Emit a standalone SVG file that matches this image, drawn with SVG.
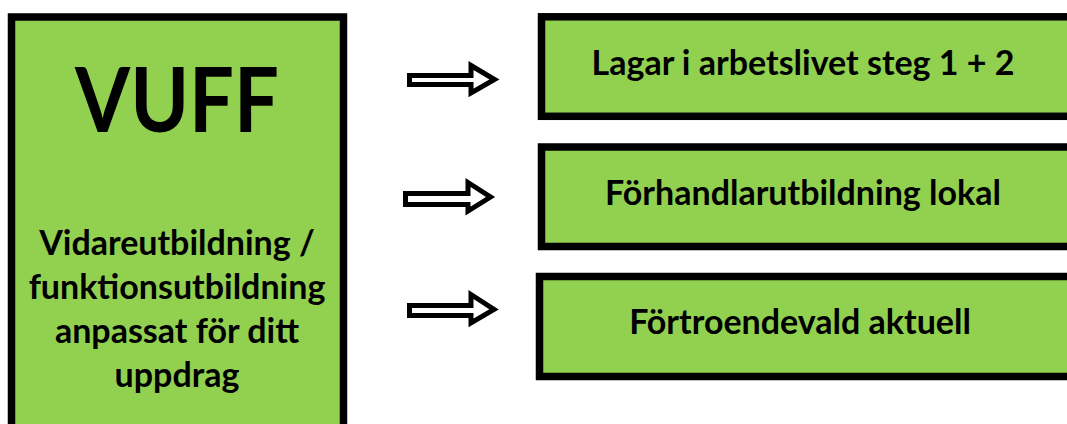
<svg xmlns="http://www.w3.org/2000/svg" width="1067" height="424" viewBox="0 0 1067 424">
<style>
.box{fill:#92D050;stroke:#000;stroke-width:7.5}
.arrow{fill:#fff;stroke:#000;stroke-width:5;stroke-linejoin:miter}
.t{font-family:Lato,"Open Sans","Liberation Sans",sans-serif;font-weight:bold;fill:#000;text-anchor:middle}
.s{font-size:34px}
</style>
<rect width="1067" height="424" fill="#fff"/>
<g id="vuff">
<rect class="box" x="11.5" y="17" width="332" height="420"/>
<text class="t" x="177" y="132" font-size="90" textLength="204" lengthAdjust="spacingAndGlyphs">VUFF</text>
<text class="t s" x="177" y="255">Vidareutbildning /</text>
<text class="t s" x="177" y="299">funktionsutbildning</text>
<text class="t s" x="177" y="343">anpassat för ditt</text>
<text class="t s" x="177" y="387">uppdrag</text>
</g>
<g id="lagar">
<rect class="box" x="541.5" y="16.8" width="540" height="99.5"/>
<text class="t s" x="803" y="75">Lagar i arbetslivet steg 1 + 2</text>
</g>
<g id="forhandlar">
<rect class="box" x="541.5" y="147" width="540" height="99.5"/>
<text class="t s" x="803" y="205">Förhandlarutbildning lokal</text>
</g>
<g id="fortroende">
<rect class="box" x="539.5" y="276.5" width="540" height="100"/>
<text class="t s" x="800" y="334">Förtroendevald aktuell</text>
</g>
<g id="connectors">
<path class="arrow" d="M409.5,75.5 H471 V65.5 L494.5,79.5 L471,93 V84.5 H409.5 Z"/>
<path class="arrow" d="M405.5,193.5 H468 V182.5 L490.5,197 L468,211 V204.5 H405.5 Z"/>
<path class="arrow" d="M409.5,305.5 H471 V294.5 L494,309.5 L471,323 V315.5 H409.5 Z"/>
</g>
</svg>
